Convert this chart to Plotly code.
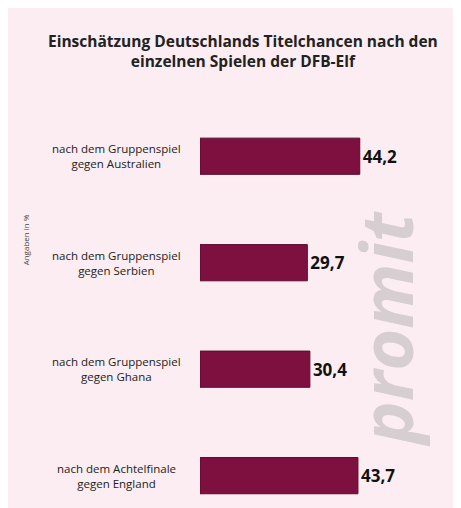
import plotly.graph_objects as go

labels = ["nach dem Gruppenspiel<br>gegen Australien",
          "nach dem Gruppenspiel<br>gegen Serbien",
          "nach dem Gruppenspiel<br>gegen Ghana",
          "nach dem Achtelfinale<br>gegen England"]
values = [44.2, 29.7, 30.4, 43.7]
value_text = ["<b>44,2</b>", "<b>29,7</b>", "<b>30,4</b>", "<b>43,7</b>"]
pos = [0, 1, 2, 3]

fig = go.Figure()
fig.add_trace(go.Bar(
    x=values, y=pos, orientation='h', width=0.34,
    marker=dict(color='#7e1040', line=dict(color='#5a0a2c', width=1)),
    text=value_text, textposition='outside',
    textfont=dict(family='Open Sans', size=17, color='#111111'),
    cliponaxis=False, hoverinfo='skip'))

for p, lab in zip(pos, labels):
    fig.add_annotation(x=-0.33, xref='paper', y=p, yref='y', text=lab,
                       showarrow=False, xanchor='center', align='center',
                       font=dict(family='Open Sans', size=11.5, color='#222222'))

fig.add_annotation(text='<b>Einschätzung Deutschlands Titelchancen nach den<br>einzelnen Spielen der DFB-Elf</b>',
                   x=0.17, y=1.13, xref='paper', yref='paper', showarrow=False,
                   xanchor='center', yanchor='middle', align='center',
                   font=dict(family='Open Sans', size=15.5, color='#222222'))
fig.add_annotation(text='Angaben in %', textangle=-90, x=-0.72, y=0.66,
                   xref='paper', yref='paper', showarrow=False,
                   font=dict(family='Open Sans', size=8, color='#444444'))
fig.add_annotation(text='<b><i>promit</i></b>', textangle=-90, x=0.93, y=0.44,
                   xref='paper', yref='paper', showarrow=False,
                   font=dict(family='Open Sans', size=72, color='rgba(150,150,150,0.35)'))

fig.update_layout(
    width=461, height=508,
    margin=dict(l=192, r=16, t=95, b=10),
    paper_bgcolor='#fbedf1', plot_bgcolor='rgba(0,0,0,0)',
    showlegend=False,
    xaxis=dict(range=[0, 70], visible=False),
    yaxis=dict(range=[3.285, -0.5], visible=False),
)
fig.write_html("out.html")
